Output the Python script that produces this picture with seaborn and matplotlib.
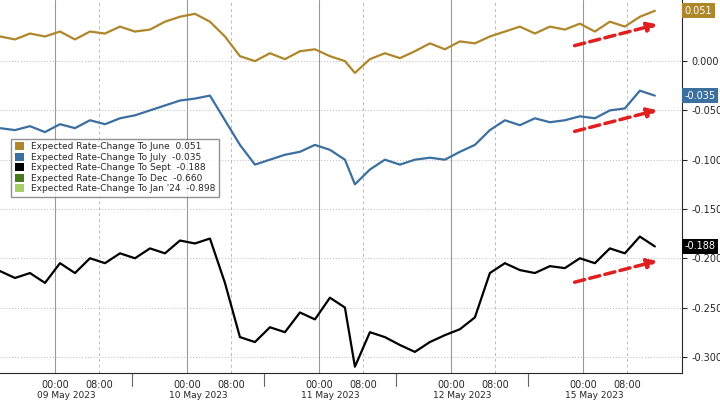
import numpy as np
import pandas as pd
import matplotlib
matplotlib.use("Agg")
import matplotlib.pyplot as plt
from matplotlib.patches import Patch
import seaborn as sns

# x position in hours (sessions compressed, 24h per trading day)
px = [0, 15, 30, 45, 60, 75, 90, 105, 120, 135, 150, 165, 180, 195, 210, 225,
      240, 255, 270, 285, 300, 315, 330, 345, 355, 370, 385, 400, 415, 430, 445,
      460, 475, 490, 505, 520, 535, 550, 565, 580, 595, 610, 625, 640, 655]
hours = [p / 5.5 for p in px]

june = [0.025, 0.022, 0.028, 0.025, 0.030, 0.022, 0.030, 0.028, 0.035, 0.030,
        0.032, 0.040, 0.045, 0.048, 0.040, 0.025, 0.005, 0.000, 0.008, 0.002,
        0.010, 0.012, 0.005, 0.000, -0.012, 0.002, 0.008, 0.003, 0.010, 0.018,
        0.012, 0.020, 0.018, 0.025, 0.030, 0.035, 0.028, 0.035, 0.032, 0.038,
        0.030, 0.040, 0.035, 0.045, 0.051]
july = [-0.068, -0.070, -0.066, -0.072, -0.064, -0.068, -0.060, -0.064, -0.058,
        -0.055, -0.050, -0.045, -0.040, -0.038, -0.035, -0.060, -0.085, -0.105,
        -0.100, -0.095, -0.092, -0.085, -0.090, -0.100, -0.125, -0.110, -0.100,
        -0.105, -0.100, -0.098, -0.100, -0.092, -0.085, -0.070, -0.060, -0.065,
        -0.058, -0.062, -0.060, -0.056, -0.058, -0.050, -0.048, -0.030, -0.035]
sept = [-0.213, -0.220, -0.215, -0.225, -0.205, -0.215, -0.200, -0.205, -0.195,
        -0.200, -0.190, -0.195, -0.182, -0.185, -0.180, -0.225, -0.280, -0.285,
        -0.270, -0.275, -0.255, -0.262, -0.240, -0.250, -0.310, -0.275, -0.280,
        -0.288, -0.295, -0.285, -0.278, -0.272, -0.260, -0.215, -0.205, -0.212,
        -0.215, -0.208, -0.210, -0.200, -0.205, -0.190, -0.195, -0.178, -0.188]

names = ["Expected Rate-Change To June", "Expected Rate-Change To July",
         "Expected Rate-Change To Sept", "Expected Rate-Change To Dec",
         "Expected Rate-Change To Jan '24"]
last_vals = ["0.051", "-0.035", "-0.188", "-0.660", "-0.898"]
colors = ["#b0862a", "#3b6fa0", "#000000", "#4a7a1e", "#a6cf6a"]
day_labels = ["09 May 2023", "10 May 2023", "11 May 2023", "12 May 2023", "15 May 2023"]

sns.set_style("white")
plt.rcParams['font.family'] = ['DejaVu Sans']

fig = plt.figure(figsize=(7.2, 4.05), dpi=100)
ax = fig.add_axes([0, 0.08, 0.947, 0.92])

df = pd.DataFrame({"h": hours, "June": june, "July": july, "Sept": sept})
long = df.melt("h", var_name="series", value_name="v")
sns.lineplot(data=long, x="h", y="v", hue="series", palette=colors[:3],
             linewidth=1.6, legend=False, ax=ax)

ax.set_xlim(0, 124)
ax.set_ylim(-0.316, 0.062)
yt = [0.0, -0.05, -0.1, -0.15, -0.2, -0.25, -0.3]
ax.set_yticks(yt)
ax.set_yticklabels([f"{v:.3f}" for v in yt], fontsize=7)
ax.yaxis.tick_right()
for v in yt:
    ax.axhline(v, color="#bbbbbb", lw=0.7, ls=(0, (1, 2)), zorder=0)

# day grid
for k in range(5):
    ax.axvline(10 + 24 * k, color="#999999", lw=0.8, zorder=0)
    ax.axvline(18 + 24 * k, color="#bbbbbb", lw=0.7, ls=(0, (3, 3)), zorder=0)
ax.set_xticks([10 + 24 * k for k in range(5)] + [18 + 24 * k for k in range(5)])
ax.set_xticklabels(["00:00"] * 5 + ["08:00"] * 5, fontsize=7)
ax.tick_params(axis="x", pad=2)
ax.set_xlabel("")
ax.set_ylabel("")
for k, d in enumerate(day_labels):
    ax.text(12 + 24 * k, -0.339, d, ha="center", va="center", fontsize=6.5)
    if k > 0:
        ax.plot([24 * k, 24 * k], [-0.316, -0.33], color="#666666", lw=0.8, clip_on=False)
for s in ["top", "left"]:
    ax.spines[s].set_visible(False)

# last value tags
for val, txt, c in [(june[-1], "0.051", colors[0]), (july[-1], "-0.035", colors[1]),
                    (sept[-1], "-0.188", colors[2])]:
    ax.text(124.5, val, txt, fontsize=7, color="white", va="center", ha="left",
            bbox=dict(boxstyle="square,pad=0.25", fc=c, ec="none"), clip_on=False)

# red dashed arrows
for x0, y0, x1, y1 in [(104, 0.015, 120, 0.038), (104, -0.072, 120, -0.049),
                       (104, -0.225, 120, -0.202)]:
    ax.annotate("", xy=(x1, y1), xytext=(x0, y0),
                arrowprops=dict(arrowstyle="-|>", color="#e02020", lw=2.5,
                                ls=(0, (3, 1.5)), mutation_scale=14))

handles = [Patch(fc=c, ec="none") for c in colors]
labels = [f"{n}  {v}" for n, v in zip(names, last_vals)]
ax.legend(handles, labels, loc="upper left", bbox_to_anchor=(0.01, 0.64),
          fontsize=6.5, frameon=True, edgecolor="#777777", fancybox=False,
          handlelength=1, handleheight=1, labelspacing=0.15, borderpad=0.4)

plt.savefig("out.png", dpi=100)
